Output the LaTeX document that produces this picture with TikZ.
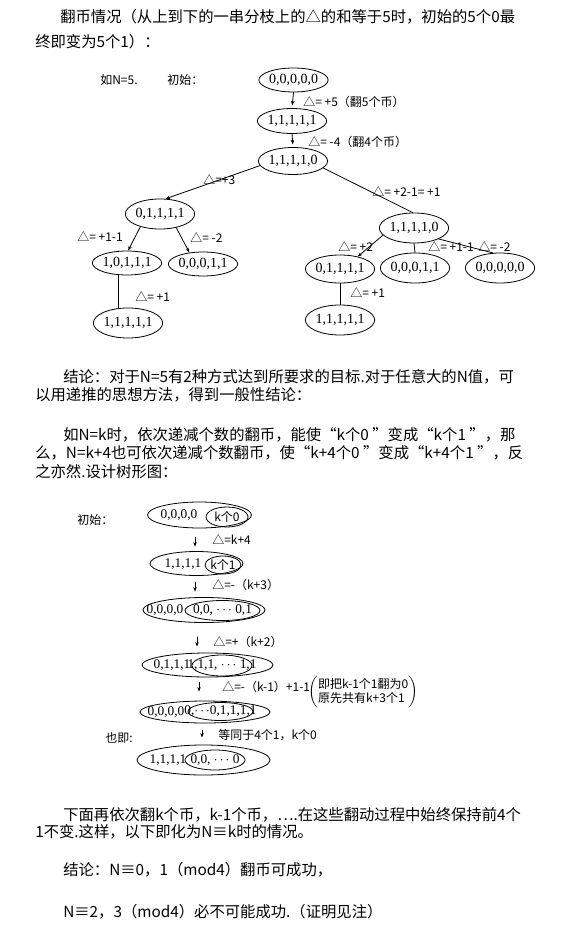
\documentclass[tikz,border=0pt]{standalone}
\usepackage{fontspec}
\setmainfont{Liberation Serif}
\newfontfamily\cjk{Noto Sans CJK SC}
\usetikzlibrary{arrows.meta,shapes.geometric}
\tikzset{
  every picture/.append style={line cap=round,line join=round},
  coin size/.style 2 args={minimum width=#1*0.75pt,minimum height=#2*0.75pt},
  coin state/.style={ellipse,draw,line width=0.6pt,inner sep=0pt,font=\fontsize{10.5}{12}\selectfont},
  coin ring/.style={ellipse,draw,line width=0.6pt,inner sep=0pt},
  coin digits/.style={inner sep=0pt,font=\fontsize{10}{12}\selectfont},
  coin para/.style={anchor=west,inner sep=0pt,font=\cjk\fontsize{11.5}{14}\selectfont},
  coin note/.style={anchor=west,inner sep=0pt,font=\cjk\fontsize{9}{11}\selectfont},
  coin arrow/.style={line width=0.6pt,-{Stealth[length=3.5pt,width=2.6pt]}},
  coin line/.style={line width=0.6pt}
}
\begin{document}
\begin{tikzpicture}[x=0.75pt,y=-0.75pt]
\useasboundingbox (0,0) rectangle (570,930);
% opening lines
\node[coin para] (p1) at (60,17) {翻币情况（从上到下的一串分枝上的△的和等于5时，初始的5个0最};
\node[coin para] (p2) at (35,42) {终即变为5个1）：};

% first tree, N=5
\node[coin note] (ex) at (100,80) {如N=5.};
\node[coin note] (init) at (167,80) {初始：};
\node[coin state,coin size={67}{24}] (r0) at (293.5,80) {0,0,0,0,0};
\node[coin state,coin size={66}{25}] (r1) at (292,121) {1,1,1,1,1};
\node[coin state,coin size={66}{27}] (r2) at (293,161) {1,1,1,1,0};
\node[coin state,coin size={65}{30}] (a) at (160,214) {0,1,1,1,1};
\node[coin state,coin size={66}{24}] (a1) at (127,263) {1,0,1,1,1};
\node[coin state,coin size={66}{24}] (a2) at (203,264) {0,0,0,1,1};
\node[coin state,coin size={65}{30}] (a3) at (128,323) {1,1,1,1,1};
\node[coin state,coin size={66}{30}] (b) at (414,228) {1,1,1,1,0};
\node[coin state,coin size={65}{28}] (b1) at (340,269) {0,1,1,1,1};
\node[coin state,coin size={65}{30}] (b2) at (415,268) {0,0,0,1,1};
\node[coin state,coin size={65}{30}] (b3) at (500,268) {0,0,0,0,0};
\node[coin state,coin size={66}{30}] (b4) at (340,320) {1,1,1,1,1};

\draw[coin arrow,shorten >=2pt] (r0.south) -- (r1.north);
\draw[coin arrow,shorten >=2pt] (r1.south) -- (r2.north);
\draw[coin arrow] (r2.188) -- (a.70);
\draw[coin line] (r2.-13) -- (b.95);
\draw[coin arrow] (a.213) -- (a1.85);
\draw[coin arrow] (a.-40) -- (a2.140);
\draw[coin line] (a1.235) -- (a1.235 |- a3.north);
\draw[coin arrow] (b.193) -- (b1.35);
\draw[coin line] (b.south) -- (b2.north);
\draw[coin line] (b.-24) -- (b3.115);
\draw[coin line] (b1.south) -- (b4.north);

\node[coin note] (d0) at (303,102) {△= +5（翻5个币）};
\node[coin note] (d1) at (308,142) {△= -4（翻4个币）};
\node[coin note] (d2) at (203,180) {△=+3};
\node[coin note] (d3) at (372,192) {△= +2-1= +1};
\node[coin note] (d4) at (77,237) {△= +1-1};
\node[coin note] (d5) at (190,238) {△= -2};
\node[coin note] (d6) at (135,297) {△= +1};
\node[coin note] (d7) at (338,247) {△= +2};
\node[coin note] (d8) at (428,247) {△= +1-1};
\node[coin note] (d9) at (478,247) {△= -2};
\node[coin note] (d10) at (350,293) {△= +1};

% middle text
\node[coin para] (p3) at (63,377) {结论：对于N=5有2种方式达到所要求的目标.对于任意大的N值，可};
\node[coin para] (p4) at (35,395) {以用递推的思想方法，得到一般性结论：};
\node[coin para] (p5) at (63,435) {如N=k时，依次递减个数的翻币，能使“k个0 ”变成“k个1 ”，那};
\node[coin para] (p6) at (35,453) {么，N=k+4也可依次递减个数翻币，使“k+4个0 ”变成“k+4个1 ”，反};
\node[coin para] (p7) at (35,472) {之亦然.设计树形图：};

% second tree, N=k+4
\node[coin note] (start) at (77,520) {初始：};
\node[coin ring,coin size={104}{26}] (o1) at (199.5,515) {};
\node[coin digits] (t1) at (179,515) {0,0,0,0};
\node[coin ring,coin size={42}{20}] (i1) at (227,517) {};
\node[coin digits,font=\cjk\fontsize{9}{11}\selectfont] (u1) at (i1) {k个0};

\node[coin ring,coin size={93}{24}] (o2) at (196.5,563.5) {};
\node[coin digits] (t2) at (183,564) {1,1,1,1};
\node[coin ring,coin size={36}{18}] (i2) at (223,565) {};
\node[coin digits,font=\cjk\fontsize{9}{11}\selectfont] (u2) at (i2) {k个1};

\node[coin ring,coin size={122}{25}] (o3) at (204,610) {};
\node[coin digits] (t3) at (165,610) {0,0,0,0};
\node[coin ring,coin size={75}{20}] (i3) at (222.5,610.5) {};
\node[coin digits] (u3) at (i3) {0,0, $\cdots$ 0,1};

\node[coin ring,coin size={131}{24}] (o4) at (207.5,665) {};
\node[coin digits] (t4) at (172,665) {0,1,1,1};
\node[coin ring,coin size={60}{21}] (i4) at (222,665.5) {};
\node[coin digits] (u4) at (i4) {1,1,1, $\cdots$ 1,1};

\node[coin ring,coin size={130}{22}] (o5) at (205,712) {};
\node[coin digits] (t5) at (166,712) {0,0,0,0};
\node[coin ring,coin size={65}{18}] (i5) at (220.5,711.5) {};
\node[coin digits] (u5) at (i5) {0,$\cdots$0,1,1,1,1};

\node[coin note] (also) at (105,738) {也即:};
\node[coin ring,coin size={133}{30}] (o6) at (203.5,760) {};
\node[coin digits] (t6) at (168,760) {1,1,1,1};
\node[coin ring,coin size={60}{20}] (i6) at (215,760) {};
\node[coin digits] (u6) at (i6) {0,0, $\cdots$ 0};

\foreach \p/\q/\x/\s/\e in {o1/o2/195/9/4.5,o2/o3/195/6.5/5.5,o3/o4/197/14/6,o4/o5/199/5/9,o5/o6/202/7/7}
  \draw[coin arrow,shorten <=\s*0.75pt,shorten >=\e*0.75pt] (\x,0 |- \p.south) -- (\x,0 |- \q.north);

\node[coin note] (e1) at (212,540) {△=k+4};
\node[coin note] (e2) at (212,585) {△=-（k+3）};
\node[coin note] (e3) at (213,642) {△=+（k+2）};
\node[coin note] (e4) at (222,687) {△=-（k-1）+1-1};
\node[coin note,font=\cjk\fontsize{9}{10}\selectfont] (why) at (308,692)
  {$\left(\vcenter{\hbox{\begin{tabular}{@{}l@{}}即把k-1个1翻为0\\原先共有k+3个1\end{tabular}}}\right)$};
\node[coin note] (e5) at (218,735) {等同于4个1，k个0};

% closing lines
\node[coin para] (p8) at (63,815) {下面再依次翻k个币，k-1个币，….在这些翻动过程中始终保持前4个};
\node[coin para] (p9) at (35,832) {1不变.这样，以下即化为N≡k时的情况。};
\node[coin para] (p10) at (63,870) {结论：N≡0，1（mod4）翻币可成功，};
\node[coin para] (p11) at (63,912) {N≡2，3（mod4）必不可能成功.（证明见注）};
\end{tikzpicture}
\end{document}
